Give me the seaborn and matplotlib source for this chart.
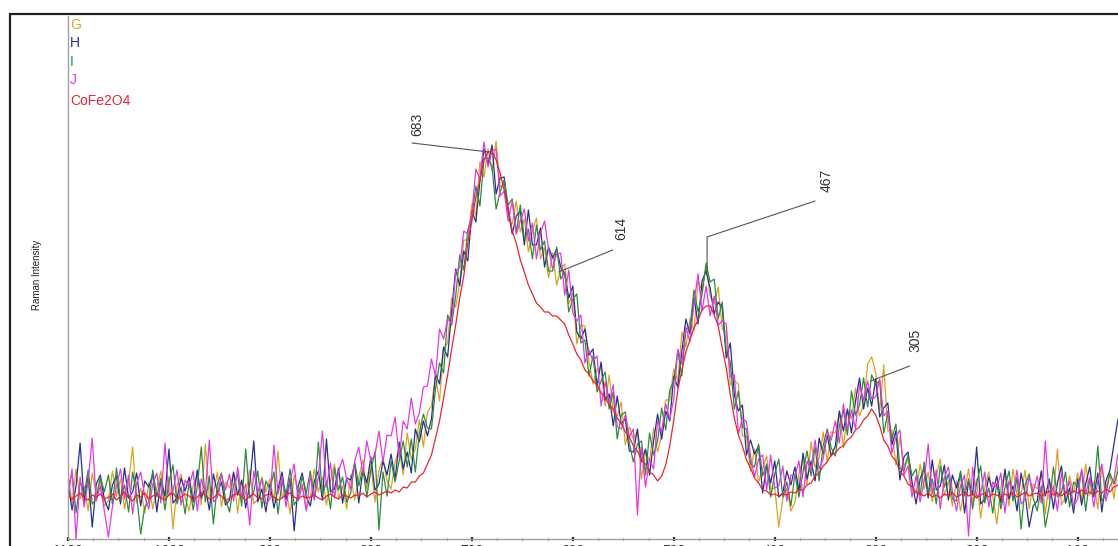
import numpy as np
import pandas as pd
import matplotlib
matplotlib.use("Agg")
import matplotlib.pyplot as plt
from matplotlib.patches import Rectangle
from matplotlib.ticker import MultipleLocator
import seaborn as sns

# ---------------- data ----------------
wavenumber = np.arange(1100, 59, -4)  # cm-1, 261 points

G = [63, 36, 70, 40, 53, 28, 66, 45, 58, 33,
     38, 68, 43, 60, 30, 56, 92, 36, 51, 26,
     56, 30, 51, 68, 38, 62, 10, 54, 65, 41,
     28, 53, 64, 34, 95, 42, 46, 67, 32, 57,
     51, 66, 26, 58, 44, 69, 35, 40, 62, 47,
     60, 38, 88, 41, 50, 25, 64, 47, 55, 30,
     42, 70, 47, 62, 34, 58, 75, 40, 53, 30,
     64, 39, 61, 79, 50, 75, 37, 69, 81, 58,
     50, 77, 91, 64, 106, 80, 90, 119, 92, 127,
     133, 163, 138, 190, 196, 241, 232, 257, 299, 299,
     335, 323, 377, 362, 390, 368, 398, 352, 355, 320,
     315, 338, 307, 320, 287, 308, 321, 280, 291, 261,
     286, 254, 270, 275, 235, 246, 195, 214, 213, 178,
     155, 170, 171, 133, 164, 127, 123, 137, 94, 112,
     100, 108, 60, 88, 78, 111, 87, 104, 139, 139,
     170, 158, 207, 192, 220, 208, 258, 249, 272, 243,
     235, 252, 210, 207, 154, 158, 155, 103, 103, 68,
     90, 57, 71, 83, 50, 51, 12, 40, 51, 28,
     37, 65, 80, 54, 97, 72, 81, 107, 77, 107,
     106, 126, 91, 128, 120, 151, 123, 134, 175, 182,
     167, 128, 174, 108, 109, 74, 102, 73, 80, 49,
     45, 75, 50, 67, 37, 63, 80, 43, 58, 33,
     58, 28, 49, 70, 36, 60, 21, 52, 67, 43,
     15, 52, 66, 33, 70, 44, 45, 69, 30, 55,
     50, 67, 25, 57, 45, 90, 34, 42, 63, 46,
     66, 38, 75, 44, 57, 30, 72, 50, 66, 40,
     75]

H = [57, 29, 53, 96, 37, 63, 12, 55, 64, 40,
     29, 54, 63, 35, 71, 41, 47, 66, 33, 58,
     52, 65, 27, 59, 43, 90, 36, 41, 61, 48,
     62, 37, 69, 41, 52, 29, 65, 46, 57, 34,
     39, 67, 44, 59, 31, 55, 98, 37, 50, 27,
     55, 31, 50, 67, 39, 61, 8, 53, 66, 42,
     33, 58, 68, 39, 100, 47, 50, 71, 36, 61,
     59, 75, 36, 69, 56, 82, 49, 55, 78, 64,
     85, 60, 97, 70, 87, 66, 110, 97, 118, 103,
     120, 165, 155, 192, 182, 228, 270, 253, 288, 278,
     328, 317, 358, 390, 375, 394, 345, 361, 362, 328,
     305, 323, 328, 294, 329, 294, 294, 311, 272, 292,
     281, 290, 272, 265, 241, 253, 207, 200, 210, 184,
     190, 153, 177, 139, 145, 113, 143, 115, 120, 88,
     87, 110, 77, 90, 64, 98, 125, 100, 128, 118,
     163, 152, 188, 220, 205, 242, 215, 258, 268, 251,
     225, 237, 231, 181, 196, 144, 128, 134, 84, 99,
     85, 93, 46, 73, 56, 78, 42, 46, 68, 54,
     72, 48, 86, 60, 78, 58, 101, 85, 103, 83,
     93, 128, 108, 130, 106, 138, 161, 130, 151, 133,
     160, 122, 131, 136, 94, 108, 59, 82, 87, 57,
     35, 60, 71, 41, 79, 49, 53, 74, 39, 64,
     51, 66, 26, 58, 44, 92, 35, 40, 62, 47,
     63, 36, 70, 40, 53, 28, 66, 45, 12, 33,
     38, 68, 43, 60, 30, 56, 73, 36, 51, 26,
     60, 34, 55, 72, 42, 66, 27, 58, 69, 95,
     120]

I = [51, 66, 26, 58, 44, 69, 35, 40, 62, 47,
     64, 35, 71, 39, 54, 27, 67, 44, 5, 32,
     37, 69, 42, 61, 29, 57, 74, 35, 52, 25,
     57, 29, 52, 92, 37, 63, 15, 55, 66, 40,
     27, 54, 65, 33, 90, 41, 47, 68, 31, 58,
     50, 67, 25, 57, 45, 70, 34, 41, 63, 46,
     68, 39, 97, 44, 58, 30, 71, 49, 62, 37,
     46, 77, 53, 71, 42, 69, 87, 9, 67, 43,
     78, 57, 78, 98, 72, 100, 67, 106, 125, 111,
     110, 150, 176, 166, 224, 214, 243, 284, 269, 309,
     323, 353, 333, 380, 381, 372, 330, 347, 359, 334,
     340, 306, 334, 300, 310, 280, 314, 289, 298, 268,
     268, 292, 260, 267, 227, 240, 245, 196, 199, 163,
     183, 147, 158, 167, 130, 147, 100, 124, 127, 96,
     77, 95, 98, 64, 106, 84, 98, 131, 109, 149,
     158, 188, 163, 210, 211, 249, 227, 244, 276, 257,
     260, 220, 237, 187, 177, 130, 148, 112, 110, 75,
     72, 95, 63, 75, 42, 65, 80, 42, 57, 33,
     65, 42, 67, 88, 63, 92, 58, 94, 110, 91,
     83, 113, 129, 104, 148, 124, 134, 161, 132, 164,
     155, 158, 106, 126, 100, 115, 71, 68, 84, 63,
     70, 43, 77, 47, 60, 35, 73, 52, 65, 40,
     38, 68, 43, 60, 30, 56, 73, 36, 51, 26,
     56, 30, 51, 68, 38, 62, 10, 54, 65, 41,
     28, 53, 12, 34, 72, 42, 46, 67, 32, 57,
     52, 68, 28, 60, 46, 93, 38, 44, 66, 55,
     68]

J = [40, 70, 0, 62, 32, 58, 101, 38, 53, 28,
     2, 32, 53, 70, 40, 64, 25, 56, 67, 43,
     30, 55, 66, 36, 96, 44, 48, 69, 34, 59,
     53, 68, 28, 60, 46, 99, 37, 42, 64, 49,
     65, 38, 72, 42, 55, 14, 68, 47, 60, 35,
     40, 94, 45, 62, 32, 58, 75, 38, 53, 28,
     63, 40, 62, 108, 52, 76, 41, 68, 80, 60,
     50, 78, 92, 66, 98, 78, 84, 108, 77, 104,
     103, 122, 82, 118, 110, 141, 115, 126, 152, 153,
     180, 163, 210, 200, 220, 215, 268, 272, 308, 305,
     325, 370, 360, 397, 372, 388, 390, 343, 348, 318,
     338, 305, 318, 330, 298, 316, 280, 306, 318, 290,
     270, 285, 286, 244, 269, 226, 218, 224, 176, 189,
     178, 183, 133, 157, 136, 154, 112, 110, 124, 102,
     110, 24, 92, 52, 80, 70, 118, 107, 135, 120,
     140, 190, 175, 212, 197, 236, 265, 228, 253, 223,
     243, 214, 218, 215, 162, 164, 105, 121, 117, 83,
     62, 80, 84, 49, 84, 51, 53, 73, 38, 64,
     63, 78, 42, 78, 69, 99, 70, 80, 107, 99,
     118, 96, 135, 110, 129, 110, 154, 139, 158, 140,
     142, 160, 123, 128, 86, 102, 109, 64, 73, 42,
     63, 37, 58, 95, 45, 69, 30, 61, 72, 48,
     28, 53, 64, 3, 72, 42, 46, 67, 32, 57,
     51, 66, 26, 58, 44, 69, 35, 40, 62, 47,
     63, 36, 98, 40, 53, 28, 66, 45, 58, 33,
     40, 70, 45, 62, 32, 58, 75, 38, 53, 60,
     85]

CoFe2O4 = [44, 40, 43, 46, 41, 39, 44, 42, 45, 40,
           42, 45, 39, 43, 47, 41, 38, 44, 42, 46,
           40, 43, 45, 41, 39, 44, 46, 40, 42, 45,
           43, 39, 42, 46, 44, 40, 41, 45, 43, 38,
           41, 44, 46, 42, 39, 43, 45, 41, 40, 44,
           45, 42, 39, 41, 44, 46, 42, 40, 43, 41,
           42, 44, 41, 39, 43, 45, 42, 40, 44, 43,
           41, 44, 43, 46, 42, 45, 47, 44, 46, 48,
           46, 49, 47, 52, 51, 57, 57, 63, 66, 75,
           84, 101, 118, 141, 164, 190, 214, 241, 263, 296,
           318, 342, 359, 379, 387, 388, 379, 366, 349, 331,
           308, 296, 279, 267, 254, 245, 236, 232, 227, 227,
           223, 223, 219, 215, 204, 195, 185, 179, 169, 165,
           158, 154, 146, 142, 134, 130, 121, 116, 107, 102,
           93, 88, 79, 75, 67, 64, 58, 63, 74, 93,
           119, 149, 169, 187, 199, 211, 219, 229, 233, 233,
           224, 213, 191, 171, 144, 121, 104, 93, 79, 71,
           61, 56, 49, 48, 44, 45, 43, 45, 44, 47,
           46, 49, 49, 54, 56, 63, 66, 73, 77, 84,
           86, 91, 93, 99, 102, 109, 112, 119, 123, 130,
           124, 113, 99, 93, 83, 78, 68, 63, 55, 52,
           47, 45, 43, 46, 42, 44, 41, 45, 43, 46,
           42, 44, 47, 43, 45, 41, 44, 46, 42, 45,
           44, 41, 45, 43, 46, 42, 44, 47, 43, 45,
           46, 43, 45, 48, 44, 46, 43, 47, 45, 48,
           46, 49, 45, 47, 44, 48, 46, 50, 47, 52,
           54]

series_names = ["G", "H", "I", "J", "CoFe2O4"]
series_colors = ["#D9A425", "#27308E", "#2E8B3C", "#E438E4", "#E8262D"]

peak_labels = [683, 614, 467, 305]
peak_heights = [387, 267, 267, 158]

# ---------------- build long table ----------------
frames = []
for name, vals in zip(series_names, [G, H, I, J, CoFe2O4]):
    frames.append(pd.DataFrame({"Raman Shift": wavenumber,
                                "Raman Intensity": vals,
                                "series": name}))
df = pd.concat(frames, ignore_index=True)

# ---------------- figure ----------------
sns.set_style("white")
plt.rcParams["font.family"] = ["Liberation Sans", "DejaVu Sans"]

W, Hh = 1118, 546
fig = plt.figure(figsize=(W / 100, Hh / 100), dpi=100)
ax = fig.add_axes([68 / W, 7 / Hh, 1050 / W, 523 / Hh])

sns.lineplot(data=df, x="Raman Shift", y="Raman Intensity", hue="series",
             hue_order=series_names, palette=series_colors, sort=False,
             estimator=None, linewidth=0.9, legend=False, ax=ax)

ax.set_xlim(1100, 60)
ax.set_ylim(0, 523)
ax.set_xlabel("")
ax.set_ylabel("")

for s in ["top", "right"]:
    ax.spines[s].set_visible(False)
for s in ["left", "bottom"]:
    ax.spines[s].set_color("#a0a0a0")
    ax.spines[s].set_linewidth(1.0)

ax.xaxis.set_major_locator(MultipleLocator(100))
ax.xaxis.set_minor_locator(MultipleLocator(25))
ax.yaxis.set_major_locator(MultipleLocator(29))
ax.yaxis.set_minor_locator(MultipleLocator(29 / 5))
ax.tick_params(axis="both", which="major", direction="inout", length=3,
               width=1.6, color="#222222", labelsize=10, labelcolor="#333333", pad=2)
ax.tick_params(axis="both", which="minor", direction="inout", length=2,
               width=1.0, color="#555555")
ax.tick_params(axis="y", which="both", labelleft=False)
ax.tick_params(axis="x", which="both", bottom=True)

# peak annotations (offsets in pixels)
line_kw = dict(arrowstyle="-", color="#555555", lw=0.8, shrinkA=0, shrinkB=0)
text_offsets = [(-72, 28), (63, 44), (120, 92), (45, 41)]
line_offsets = [(-77, 9), (54, 22), (108, 71), (39, 15)]
for lab, h, toff, loff in zip(peak_labels, peak_heights, text_offsets, line_offsets):
    if lab == 467:
        cs = "angle,angleA=18.4,angleB=90,rad=0"
    else:
        cs = "arc3"
    ax.annotate("", xy=(lab, h), xytext=loff, textcoords="offset pixels",
                arrowprops=dict(connectionstyle=cs, **line_kw))
    ax.annotate(str(lab), xy=(lab, h), xytext=toff, textcoords="offset pixels",
                rotation=90, ha="center", va="center", fontsize=10, color="#333333")

# legend as coloured text
legend_y = [25, 43, 62, 80, 101]
for name, col, yy in zip(series_names, series_colors, legend_y):
    fig.text(70 / W, 1 - yy / Hh, name, color=col, fontsize=10,
             ha="left", va="center")

fig.text(37 / W, 1 - 275 / Hh, "Raman Intensity", rotation=90,
         ha="center", va="center", fontsize=7, color="#222222")

# outer frame
fig.add_artist(Rectangle((10 / W, -0.05), 1.2, (Hh - 14) / Hh + 0.05,
                         transform=fig.transFigure, fill=False,
                         edgecolor="#222222", linewidth=1.6))

fig.savefig("out.png", dpi=100)
